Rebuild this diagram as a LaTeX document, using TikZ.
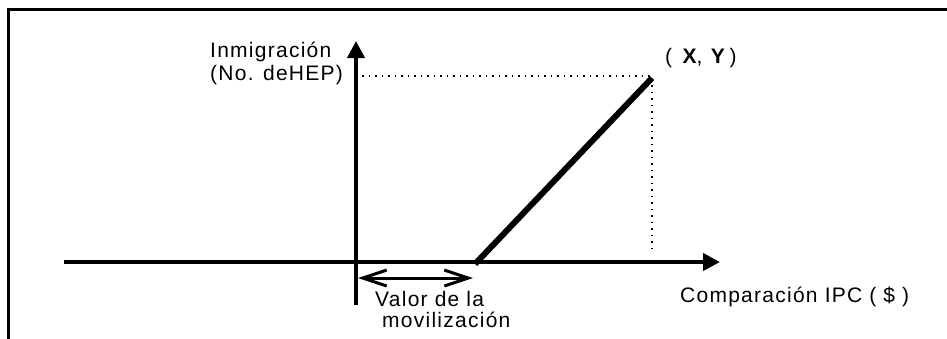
\documentclass[tikz,border=0pt]{standalone}
\usepackage{fontspec}
\newfontfamily\lab[LetterSpace=6]{Liberation Sans}
\usetikzlibrary{arrows.meta}
\begin{document}
\begin{tikzpicture}[x=1pt,y=-1pt,
  frame/.style={line width=3pt},
  axis/.style={line width=4pt,-{Triangle[length=17pt,width=17pt]}},
  curve/.style={line width=6pt,line cap=butt},
  guide/.style={line width=1.2pt,dash pattern=on 1.5pt off 5pt},
  span/.style={line width=3pt,{Straight Barb[length=24pt,width=16pt]}-{Straight Barb[length=24pt,width=16pt]}},
  txt/.style={font=\lab\fontsize{21}{25}\selectfont,inner sep=0pt,anchor=base west}]
\useasboundingbox (0,0) rectangle (947,338);
% frame
\coordinate (ftl) at (8,9);
\coordinate (ftr) at (948,9);
\coordinate (fbl) at (8,339);
\draw[frame] (ftr) -- (ftl) -- (fbl);
% axes
\coordinate (xs) at (64,262);
\coordinate (xe) at (720,262);
\coordinate (ys) at (356,305);
\coordinate (ye) at (356,41);
\draw[axis] (xs) -- (xe);
\draw[axis] (ys) -- (ye);
% diagonal
\coordinate (m) at (475,264);
\coordinate (p) at (652,78);
\draw[curve] (m) -- (p);
% guides
\coordinate (gy) at (362,76);
\coordinate (gx) at (652,250);
\coordinate (pc) at (652,76);
\draw[guide] (gy) -- (pc) -- (gx);
% span arrow
\coordinate (sa) at (358,278);
\coordinate (sb) at (473,278);
\draw[span] (sa) -- (sb);
% labels
\node[txt] (t1) at (210,57) {Inmigración};
\node[txt] (t2) at (210,80) {(No. deHEP)};
\node[txt] (t3) at (665,63) {(\enspace\textbf{X}, \textbf{Y}\,)};
\node[txt] (t4) at (375,306) {Valor de la};
\node[txt] (t5) at (382,327) {movilización};
\node[txt] (t6) at (680,302) {Comparación IPC ( \$ )};
\end{tikzpicture}
\end{document}
